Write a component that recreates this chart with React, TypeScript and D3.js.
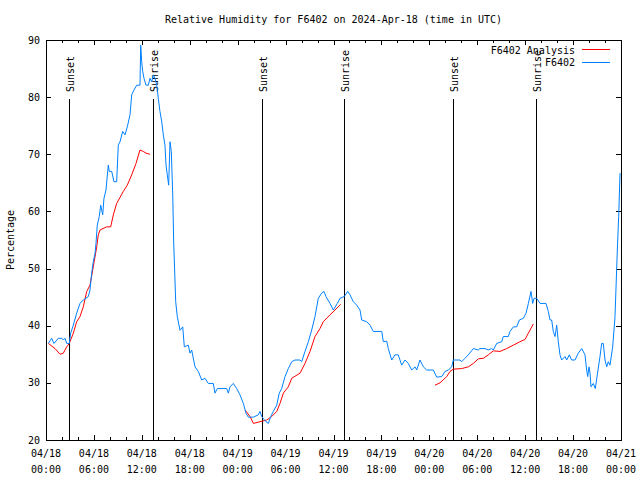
import React from "react";
import * as d3 from "d3";

// Hours since 2024-04-18 00:00 UTC, and relative humidity (%)
const obsHours = [
  0.29, 0.71, 1.0, 1.54, 1.97, 2.17, 2.38, 2.59, 2.92, 3.09, 3.42, 3.84, 4.26, 4.67, 5.3, 5.51, 5.72, 5.92, 6.14, 6.26,
  6.42, 6.67, 6.85, 7.1, 7.26, 7.51, 7.8, 7.93, 8.23, 8.51, 8.85, 9.05, 9.27, 9.6, 9.89, 10.18, 10.52, 10.73, 11.02, 11.36,
  11.77, 11.86, 11.98, 12.11, 12.27, 12.52, 12.81, 13.02, 13.24, 13.44, 13.65, 13.86, 14.06, 14.27, 14.49, 14.69, 14.9, 15.03, 15.19, 15.36,
  15.53, 15.69, 15.87, 15.99, 16.15, 16.24, 16.44, 16.78, 17.12, 17.32, 17.82, 18.03, 18.24, 18.66, 19.07, 19.5, 19.91, 20.32, 20.95, 21.16,
  21.45, 22.63, 22.83, 23.04, 23.45, 23.88, 24.29, 24.71, 25.04, 25.33, 25.96, 26.58, 26.8, 27.01, 27.3, 27.55, 27.84, 28.14, 28.46, 28.89,
  29.21, 29.51, 29.93, 30.34, 30.77, 31.18, 31.81, 32.02, 32.43, 32.85, 33.27, 33.68, 34.1, 34.52, 34.81, 35.06, 35.56, 35.98, 36.48, 36.82,
  37.35, 37.78, 38.07, 38.48, 38.91, 39.32, 39.53, 40.16, 40.57, 40.98, 42.04, 42.24, 42.66, 42.86, 43.29, 43.7, 44.11, 44.54, 44.95, 45.36,
  45.79, 46.21, 46.42, 46.83, 47.25, 47.67, 48.5, 48.92, 49.55, 49.96, 50.38, 50.8, 51.0, 51.84, 52.05, 52.46, 52.88, 53.51, 54.13, 54.34,
  54.97, 55.38, 55.81, 56.01, 56.44, 57.06, 57.26, 57.89, 58.1, 58.52, 58.94, 59.27, 59.77, 60.11, 60.4, 60.73, 60.94, 61.11, 61.44, 61.86,
  62.61, 62.9, 63.11, 63.32, 63.52, 63.74, 63.95, 64.15, 64.36, 64.57, 64.99, 65.2, 65.53, 65.82, 66.24, 66.65, 67.08, 67.49, 67.7, 67.83,
  67.99, 68.12, 68.24, 68.53, 68.78, 69.03, 69.37, 69.58, 69.78, 70.0, 70.21, 70.41, 70.62, 70.96, 71.25, 71.54, 71.71, 71.88,
];
const obsValues = [
  36.9, 37.8, 36.9, 37.8, 37.8, 37.5, 37.8, 36.9, 36.9, 38.7, 40.1, 42.2, 43.9, 44.5, 45.1, 46.25, 49.2, 51.2, 52.7, 54.4,
  57.6, 59.1, 61.1, 59.4, 62.3, 63.75, 68.1, 67, 67, 65.2, 65.2, 71.6, 72.2, 74, 73.4, 74.8, 76.9, 80.4, 81.25, 82.1,
  82.1, 89.1, 86.2, 84.5, 83.3, 82.1, 82.1, 83.3, 82.7, 83.9, 83.3, 82.1, 79.8, 77.5, 75.7, 73.4, 71.6, 68.1, 66.4, 64.6,
  72.2, 70.5, 62.9, 54.5, 48, 44.2, 41.6, 39.2, 39.8, 36.3, 36.6, 35.2, 35.75, 32.8, 32, 30.5, 30.8, 29.9, 29.9, 28.2,
  29, 29, 28.2, 29.3, 29.9, 29, 27.9, 26.4, 24.7, 24, 24, 24.4, 25, 24.1, 23.6, 23.2, 22.9, 24.1, 25, 26.1,
  28.2, 29, 31.1, 32.5, 33.7, 34, 34, 33.7, 35.5, 37.2, 39.25, 41.6, 44.8, 45.7, 46, 45.1, 43.9, 42.75, 43.9, 44.8,
  45.1, 46, 45.4, 44.2, 43.6, 42.75, 41, 40.7, 40.1, 39, 39, 37.2, 37.3, 36, 34, 34.9, 34.9, 33.1, 34, 33.4,
  32.25, 32.8, 32.25, 34, 32.8, 32.25, 32.25, 31, 31.1, 32, 32.25, 32.8, 34, 34, 33.7, 34.3, 34.9, 36, 35.75, 36,
  36, 35.75, 36, 35.75, 36.9, 37.2, 38.1, 38.1, 39, 39.8, 39.8, 41, 41.3, 42.2, 43.9, 46, 43.9, 44.8, 44.8, 43.9,
  43.9, 42.5, 41, 41, 39, 38.1, 40.1, 37.2, 34.9, 34, 34.6, 34, 34.9, 34, 34, 35.2, 36, 34.9, 32.25, 31.1,
  32.8, 31.7, 29.3, 29.9, 29, 31.4, 34.6, 36.9, 36.9, 34, 32.8, 33.7, 33.1, 36.3, 41.6, 53.25, 59.1, 66.7,
];

const analysis1Hours = [0.29, 1.13, 1.75, 2.17, 2.59, 2.92, 3.42, 3.84, 4.26, 4.67, 5.1, 5.51, 5.92, 6.35, 6.55, 6.76, 7.6, 8.1, 8.43, 8.85, 9.68, 10.18, 10.73, 11.27, 11.77, 12.18, 12.52, 13.02];
const analysis1Values = [36.9, 36, 35, 35.2, 36.3, 36.9, 38.7, 40.7, 41.6, 43.3, 46, 47.1, 50.3, 53.8, 55.9, 56.75, 57.3, 57.3, 59.4, 61.4, 63.5, 64.6, 66.4, 68.4, 70.75, 70.5, 70.2, 70];
const analysis2Hours = [24.92, 25.55, 25.97, 26.8, 27.64, 28.26, 28.89, 29.3, 29.72, 30.34, 30.77, 31.81, 32.43, 33.06, 33.68, 34.31, 34.72, 35.56, 36.19, 36.9];
const analysis2Values = [25.25, 24.1, 22.9, 23.2, 23.5, 24.1, 25, 26.4, 28.2, 29.3, 30.8, 31.7, 33.4, 35.5, 38.1, 39.5, 40.7, 41.9, 42.75, 43.75];
const analysis3Hours = [48.71, 49.34, 50.18, 50.59, 51.0, 52.05, 52.88, 53.51, 54.13, 54.76, 55.38, 56.01, 56.85, 57.68, 58.52, 59.35, 59.98, 60.4, 61.02];
const analysis3Values = [29.6, 30.0, 31.1, 32, 32.4, 32.5, 32.8, 33.4, 34.2, 34.3, 34.9, 35.6, 35.5, 36, 36.6, 37.2, 37.6, 38.7, 40.3];

const sunEventHours = [2.92, 13.43, 27.0, 37.35, 51.0, 61.4];
const sunEventLabels = ["Sunset", "Sunrise", "Sunset", "Sunrise", "Sunset", "Sunrise"];

const yTicks = [20, 30, 40, 50, 60, 70, 80, 90];

const titleText = "Relative Humidity for F6402 on 2024-Apr-18 (time in UTC)";
const yLabel = "Percentage";
const legendLabels = ["F6402 Analysis", "F6402"];
const seriesColors = ["#ff0000", "#0080ff"];

const W = 640, H = 480;
const L = 46, R = 621, T = 40, B = 440;
const FONT = "'DejaVu Sans Mono', monospace";

const t0 = Date.UTC(2024, 3, 18, 0, 0);
const toDate = (h: number) => new Date(t0 + h * 3600 * 1000);

export default function App() {
  const x = d3.scaleUtc().domain([toDate(0), toDate(72)]).range([L, R]);
  const y = d3.scaleLinear().domain([20, 90]).range([B, T]);
  const line = d3
    .line<[number, number]>()
    .x((d) => x(toDate(d[0])))
    .y((d) => y(d[1]));

  const zip = (hs: number[], vs: number[]) => hs.map((h, i) => [h, vs[i]] as [number, number]);
  const obs = zip(obsHours, obsValues);
  const analysisSegs = [
    zip(analysis1Hours, analysis1Values),
    zip(analysis2Hours, analysis2Values),
    zip(analysis3Hours, analysis3Values),
  ];

  const majorTicks = x.ticks(d3.utcHour.every(6) as any);
  const minorTicks = x.ticks(d3.utcHour.every(2) as any).filter((d) => d.getUTCHours() % 6 !== 0);
  const fmtDate = d3.utcFormat("%m/%d");
  const fmtTime = d3.utcFormat("%H:%M");
  const px = (v: number) => Math.round(v) + 0.5;

  return (
    <svg
      width={W}
      height={H}
      style={{ position: "absolute", left: 0, top: 0, background: "#fff" }}
      fontFamily={FONT}
      fontSize={10}
    >
      <rect x={0} y={0} width={W} height={H} fill="#fff" />
      <text x={(L + R) / 2} y={23} textAnchor="middle" fill="#000">
        {titleText}
      </text>

      {/* y ticks */}
      {yTicks.map((v) => (
        <g key={"y" + v}>
          <line x1={L} x2={L + 5} y1={px(y(v))} y2={px(y(v))} stroke="#000" shapeRendering="crispEdges" />
          <line x1={R - 5} x2={R} y1={px(y(v))} y2={px(y(v))} stroke="#000" shapeRendering="crispEdges" />
          <text x={40} y={y(v)} dy="0.35em" textAnchor="end" fill="#000">
            {v}
          </text>
        </g>
      ))}

      {/* x ticks */}
      {majorTicks.map((d, i) => (
        <g key={"xm" + i}>
          <line x1={px(x(d))} x2={px(x(d))} y1={B} y2={B - 5} stroke="#000" shapeRendering="crispEdges" />
          <line x1={px(x(d))} x2={px(x(d))} y1={T} y2={T + 5} stroke="#000" shapeRendering="crispEdges" />
          <text x={x(d)} y={453} dy="0.35em" textAnchor="middle" fill="#000">
            {fmtDate(d)}
          </text>
          <text x={x(d)} y={469} dy="0.35em" textAnchor="middle" fill="#000">
            {fmtTime(d)}
          </text>
        </g>
      ))}
      {minorTicks.map((d, i) => (
        <g key={"xn" + i}>
          <line x1={px(x(d))} x2={px(x(d))} y1={B} y2={B - 3} stroke="#000" shapeRendering="crispEdges" />
          <line x1={px(x(d))} x2={px(x(d))} y1={T} y2={T + 3} stroke="#000" shapeRendering="crispEdges" />
        </g>
      ))}

      <text transform={`translate(13.5,${(T + B) / 2}) rotate(-90)`} textAnchor="middle" fill="#000">
        {yLabel}
      </text>

      {/* sunrise / sunset markers */}
      {sunEventHours.map((h, i) => {
        const xx = px(x(toDate(h)));
        return (
          <g key={"s" + i}>
            <line x1={xx} x2={xx} y1={99} y2={B} stroke="#000" shapeRendering="crispEdges" />
            <text transform={`translate(${xx + 4.5},92) rotate(-90)`} textAnchor="start" fill="#000">
              {sunEventLabels[i]}
            </text>
          </g>
        );
      })}

      {/* data */}
      {analysisSegs.map((seg, i) => (
        <path key={"a" + i} d={line(seg) || ""} fill="none" stroke={seriesColors[0]} strokeWidth={1} />
      ))}
      <path d={line(obs) || ""} fill="none" stroke={seriesColors[1]} strokeWidth={1} />

      {/* legend */}
      {legendLabels.map((lab, i) => (
        <g key={"l" + i}>
          <text x={575} y={50 + i * 12.5} dy="0.35em" textAnchor="end" fill="#000">
            {lab}
          </text>
          <line x1={582} x2={610} y1={px(49 + i * 12.5)} y2={px(49 + i * 12.5)} stroke={seriesColors[i]} shapeRendering="crispEdges" />
        </g>
      ))}

      {/* frame */}
      <rect x={L + 0.5} y={T + 0.5} width={R - L} height={B - T} fill="none" stroke="#000" shapeRendering="crispEdges" />
    </svg>
  );
}
